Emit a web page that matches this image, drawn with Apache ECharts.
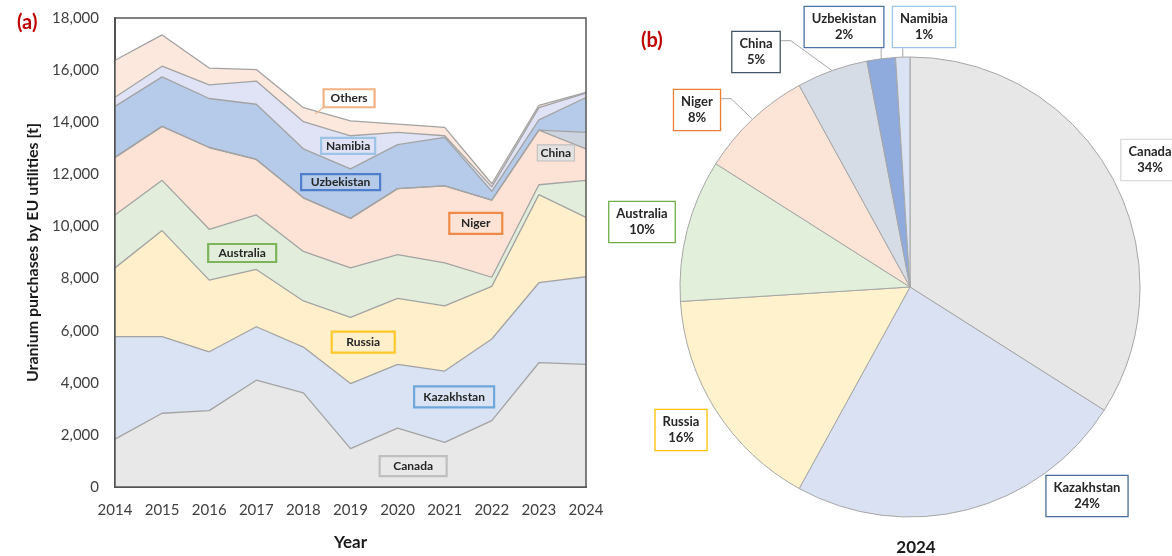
<!DOCTYPE html>
<html>
<head>
<meta charset="utf-8">
<script src="https://cdn.jsdelivr.net/npm/echarts@6/dist/echarts.min.js"></script>
<style>
  html, body { margin: 0; padding: 0; background: #ffffff; }
  #chart { width: 1172px; height: 556px; }
</style>
</head>
<body>
<div id="chart"></div>
<script>
// Uranium purchases by EU utilities, tonnes per supplier country (stacked)
const years = ['2014', '2015', '2016', '2017', '2018', '2019', '2020', '2021', '2022', '2023', '2024'];
const canada     = [1840, 2830, 2930, 4100, 3610, 1470, 2260, 1710, 2550, 4770, 4710];
const kazakhstan = [3930, 2940, 2260, 2050, 1760, 2500, 2450, 2740, 3130, 3070, 3360];
const russia     = [2640, 4070, 2750, 2200, 1770, 2540, 2530, 2500, 2020, 3380, 2280];
const australia  = [2030, 1930, 1950, 2090, 1900, 1900, 1680, 1650, 350, 380, 1420];
const niger      = [2210, 2070, 3140, 2130, 2060, 1900, 2530, 2960, 2960, 2100, 1210];
const china      = [0, 0, 0, 0, 0, 0, 0, 0, 0, 0, 630];
const uzbekistan = [1960, 1900, 1880, 2120, 1880, 1900, 1690, 1860, 340, 390, 1340];
const namibia    = [350, 410, 520, 890, 1040, 1270, 470, 60, 170, 470, 170];
const others     = [1420, 1200, 650, 440, 540, 570, 320, 320, 120, 90, 30];

// 2024 shares (%)
const pieNames  = ['Canada', 'Kazakhstan', 'Russia', 'Australia', 'Niger', 'China', 'Uzbekistan', 'Namibia'];
const pieShares = [34, 24, 16, 10, 8, 5, 2, 1];

const yTicks = { min: 0, max: 18000, step: 2000 };

// ---- styling ----
const FONT = 'Lato, "Open Sans", sans-serif';
const LINE_GREY = '#a3a3a3';

const areaFill = {
  Canada: '#e8e8e8', Kazakhstan: '#dae3f3', Russia: '#fff0cb', Australia: '#e2eedb',
  Niger: '#fde3d5', China: '#ccd4df', Uzbekistan: '#b5cbe9', Namibia: '#dfe3f5', Others: '#fde8dd'
};
const pieFill = {
  Canada: '#e7e7e7', Kazakhstan: '#d9e1f2', Russia: '#fff2cc', Australia: '#e2efda',
  Niger: '#fce4d6', China: '#d6dce5', Uzbekistan: '#8faadc', Namibia: '#dae3f3'
};
const pieBorder = {
  Canada: '#d9d9d9', Kazakhstan: '#4a6b9b', Russia: '#ffc000', Australia: '#70ad47',
  Niger: '#ed7d31', China: '#44546a', Uzbekistan: '#4a70a8', Namibia: '#9dc3e6'
};

// callout boxes in the stacked area panel: [year, tonnes] centre, box size, border
const areaCallouts = [
  { name: 'Others',     at: [2018.97, 14920], size: [51, 18], border: '#f4b183' },
  { name: 'Namibia',    at: [2018.95, 13090], size: [54, 16], border: '#9dc3e6' },
  { name: 'Uzbekistan', at: [2018.79, 11700], size: [79, 16], border: '#4f7fcc' },
  { name: 'Australia',  at: [2016.70, 8980],  size: [68, 18], border: '#7cb55a' },
  { name: 'Russia',     at: [2019.27, 5560],  size: [63, 21], border: '#ffc72a' },
  { name: 'Canada',     at: [2020.33, 800],   size: [67, 20], border: '#bfbfbf' },
  { name: 'Kazakhstan', at: [2021.20, 3460],  size: [80, 21], border: '#6fa7db' },
  { name: 'Niger',      at: [2021.66, 10120], size: [53, 21], border: '#ee8a47' },
  { name: 'China',      at: [2023.36, 12820], size: [36, 15], border: '#bfbfbf', fill: '#e2e2e2' }
];
const othersPointer = [[2018.42, 14570], [2018.25, 14310]];

// pie callout centres (px) and leader routing
const pieLabelPos = {
  Canada:     { c: [1150, 160] },
  Kazakhstan: { c: [1087, 496] },
  Russia:     { c: [681, 430] },
  Australia:  { c: [642, 222] },
  Niger:      { c: [697, 110], route: 'elbow' },
  China:      { c: [756, 52], route: 'elbow' },
  Uzbekistan: { c: [844, 27], route: 'down' },
  Namibia:    { c: [924, 27], route: 'down' }
};

const stackSeries = [
  ['Canada', canada], ['Kazakhstan', kazakhstan], ['Russia', russia], ['Australia', australia],
  ['Niger', niger], ['China', china], ['Uzbekistan', uzbekistan], ['Namibia', namibia], ['Others', others]
];

const chart = echarts.init(document.getElementById('chart'), null, { renderer: 'canvas' });

const series = stackSeries.map(function (s) {
  return {
    name: s[0],
    type: 'line',
    stack: 'total',
    symbol: 'none',
    silent: true,
    xAxisIndex: 0,
    data: s[1],
    lineStyle: { color: LINE_GREY, width: 1.3 },
    areaStyle: { color: areaFill[s[0]], opacity: 1 },
    z: 2
  };
});

// callouts are placed on a continuous year axis that spans the same grid
series.push({
  name: 'callouts',
  type: 'line',
  xAxisIndex: 1,
  data: [],
  silent: true,
  markPoint: {
    silent: true,
    animation: false,
    data: areaCallouts.map(function (a) {
      return {
        name: a.name,
        coord: a.at,
        symbol: 'circle',
        symbolSize: 1,
        itemStyle: { color: 'rgba(0,0,0,0)' },
        label: {
          show: true, position: 'inside', formatter: a.name,
          width: a.size[0], height: a.size[1], lineHeight: a.size[1],
          align: 'center', verticalAlign: 'middle', padding: 0,
          backgroundColor: a.fill || 'transparent',
          borderColor: a.border, borderWidth: 1.1,
          color: '#262626', fontFamily: FONT, fontWeight: 'bold', fontSize: 12
        }
      };
    })
  },
  markLine: {
    silent: true,
    animation: false,
    symbol: ['none', 'none'],
    label: { show: false },
    lineStyle: { color: '#f4b183', width: 1.2, type: 'solid' },
    data: [[{ coord: othersPointer[0] }, { coord: othersPointer[1] }]]
  }
});

series.push({
  name: '2024',
  type: 'pie',
  center: [910, 287],
  radius: 230,
  startAngle: 90,
  clockwise: true,
  avoidLabelOverlap: false,
  silent: true,
  itemStyle: { borderColor: '#a6a6a6', borderWidth: 1 },
  label: {
    show: true,
    position: 'outside',
    formatter: '{b}\n{c}%',
    fontFamily: FONT, fontWeight: 'bold', fontSize: 13, lineHeight: 16,
    color: '#262626', backgroundColor: '#ffffff', borderWidth: 1.3,
    padding: [4, 7], align: 'center'
  },
  labelLine: { show: true, lineStyle: { color: '#a6a6a6', width: 1 } },
  labelLayout: function (p) {
    const name = pieNames[p.dataIndex];
    const L = pieLabelPos[name];
    const out = { x: L.c[0], y: L.c[1], align: 'center', verticalAlign: 'middle' };
    const pts = p.labelLinePoints;
    if (L.route && pts && pts.length) {
      const w = p.labelRect.width, h = p.labelRect.height;
      const start = pts[0];
      const top = L.c[1] - h / 2, bottom = L.c[1] + h / 2, right = L.c[0] + w / 2;
      if (L.route === 'down') {
        out.labelLinePoints = [start, [start[0], bottom], [start[0], bottom]];
      } else {
        out.labelLinePoints = [start, [right + 10, top + 10], [right, top + 10]];
      }
    }
    return out;
  },
  data: pieNames.map(function (n, i) {
    return {
      name: n,
      value: pieShares[i],
      itemStyle: { color: pieFill[n] },
      label: { borderColor: pieBorder[n] },
      labelLine: { show: !!pieLabelPos[n].route }
    };
  })
});

chart.setOption({
  animation: false,
  textStyle: { fontFamily: FONT },
  title: [
    { text: '(a)', left: 12, top: 8, textStyle: { color: '#c00000', fontSize: 20, fontWeight: 'bold', fontFamily: FONT } },
    { text: '(b)', left: 636, top: 26, textStyle: { color: '#c00000', fontSize: 20, fontWeight: 'bold', fontFamily: FONT } },
    { text: '2024', left: 911, top: 534, textAlign: 'center', textStyle: { color: '#1a1a1a', fontSize: 17, fontWeight: 'bold', fontFamily: FONT } }
  ],
  grid: {
    left: 115, right: 586, top: 18, bottom: 65,
    show: true, borderColor: '#595959', borderWidth: 1.5, backgroundColor: 'transparent', z: 10
  },
  xAxis: [{
    type: 'category',
    data: years,
    boundaryGap: false,
    name: 'Year', nameLocation: 'middle', nameGap: 47,
    nameTextStyle: { fontSize: 17, fontWeight: 'bold', color: '#1a1a1a', fontFamily: FONT },
    axisLine: { show: true, lineStyle: { color: '#404040', width: 2 } },
    axisTick: { show: false },
    splitLine: { show: false },
    axisLabel: { margin: 16, fontSize: 15, color: '#404040', fontFamily: FONT, interval: 0 }
  }, {
    type: 'value',
    min: Number(years[0]), max: Number(years[years.length - 1]),
    show: false,
    splitLine: { show: false }
  }],
  yAxis: {
    type: 'value',
    min: yTicks.min, max: yTicks.max, interval: yTicks.step,
    name: 'Uranium purchases by EU utilities [t]', nameLocation: 'middle', nameGap: 74,
    nameTextStyle: { fontSize: 16, fontWeight: 'bold', color: '#1a1a1a', fontFamily: FONT },
    axisLine: { show: true, lineStyle: { color: '#404040', width: 2 } },
    axisTick: { show: false },
    splitLine: { show: false },
    axisLabel: { margin: 16, fontSize: 15, color: '#404040', fontFamily: FONT }
  },
  series: series
});
</script>
</body>
</html>
